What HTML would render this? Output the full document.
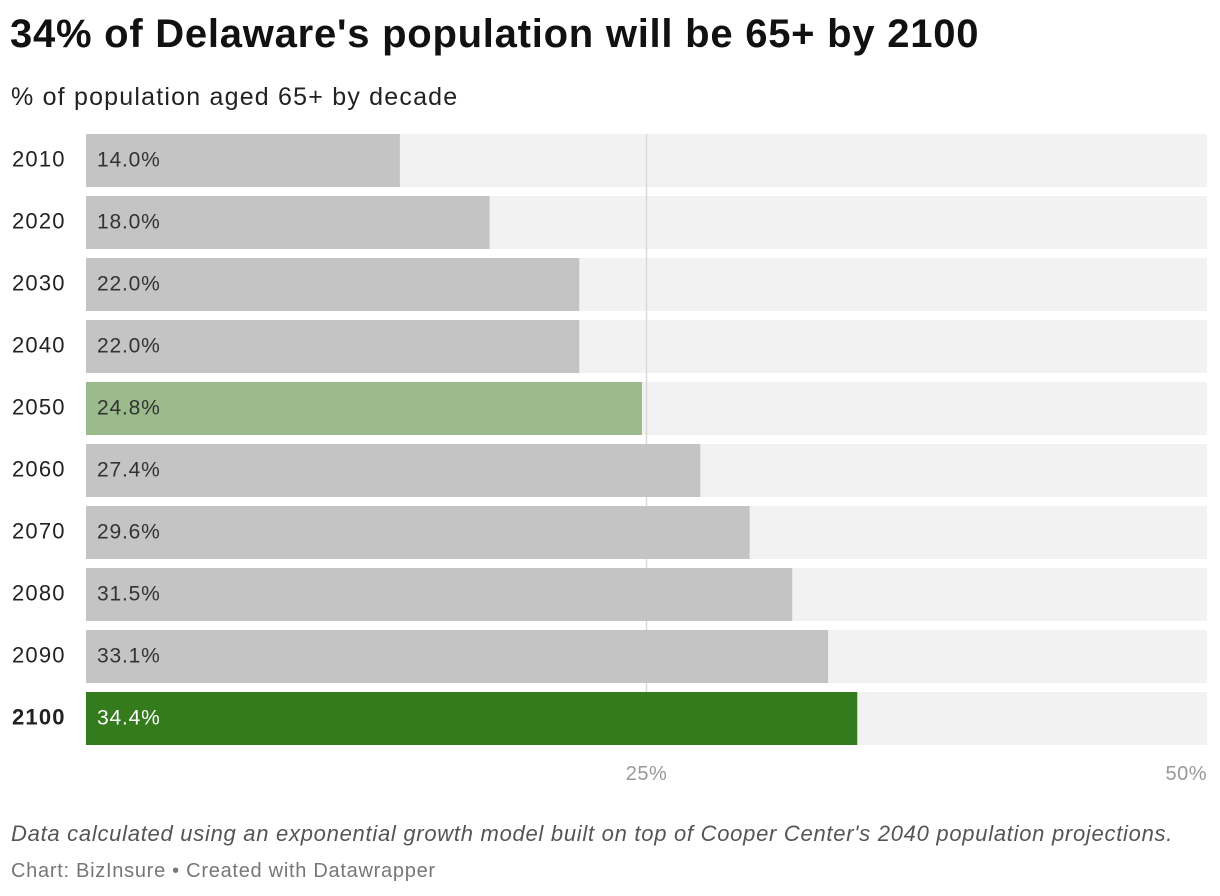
<!DOCTYPE html>
<html><head><meta charset="utf-8"><style>
body{margin:0;width:1220px;height:896px;background:#fff;font-family:"Liberation Sans",sans-serif;position:relative;overflow:hidden}
.t{position:absolute;white-space:nowrap}
</style></head><body>
<div class="t" style="left:10px;top:12px;font-size:40px;font-weight:bold;color:#111;letter-spacing:0.75px">34% of Delaware's population will be 65+ by 2100</div>
<div class="t" style="left:11px;top:83px;font-size:25px;color:#222;letter-spacing:1.2px">% of population aged 65+ by decade</div>
<svg id="chart" width="1220" height="800" style="position:absolute;left:0;top:0"></svg>
<div class="t" style="left:11px;top:821px;font-size:22px;font-style:italic;color:#555;letter-spacing:0.72px">Data calculated using an exponential growth model built on top of Cooper Center's 2040 population projections.</div>
<div class="t" style="left:11px;top:860px;font-size:20px;color:#777;letter-spacing:0.72px">Chart: BizInsure • Created with Datawrapper</div>
<script>
const years=["2010","2020","2030","2040","2050","2060","2070","2080","2090","2100"];
const values=[14.0,18.0,22.0,22.0,24.8,27.4,29.6,31.5,33.1,34.4];
const ticks=[25,50];
const NS="http://www.w3.org/2000/svg";
const svg=document.getElementById('chart');
const x0=86,x1=1207,max=50,top0=134,pitch=62,bh=53;
const x=v=>x0+(x1-x0)*v/max;
function mk(t,a){const e=document.createElementNS(NS,t);for(const k in a)e.setAttribute(k,a[k]);svg.appendChild(e);return e;}
years.forEach((y,i)=>{
  const yy=top0+i*pitch;
  const bg=mk('rect',{x:x0,y:yy,width:x1-x0,height:bh,fill:'#f2f2f2'});
  
  
});
ticks.forEach(t=>{
  if(t<max){const l=mk('line',{x1:x(t),x2:x(t),y1:top0,y2:top0+pitch*years.length-9,stroke:'#d9d9d9','stroke-width':1.5});
  
  }
  const tx=mk('text',{x:x(t),y:780,'font-size':20,fill:'#999','text-anchor':t==max?'end':'middle','letter-spacing':0.5});
  tx.textContent=t+'%';
  
  
});
years.forEach((y,i)=>{
  const yy=top0+i*pitch;
  const last=i==years.length-1, hl=y=="2050";
  const r=mk('rect',{x:x0,y:yy,width:x(values[i])-x0,height:bh,fill:last?'#347b1e':hl?'#9cbb8c':'#c4c4c4'});
  
  
  const lab=mk('text',{x:12,y:yy+bh/2+6,'font-size':22,fill:'#222','font-weight':last?'bold':'normal','letter-spacing':1.2});
  lab.textContent=y;
  
  
  const v=mk('text',{x:97,y:yy+bh/2+6,'font-size':21,fill:last?'#fff':'#333','letter-spacing':0.8});
  v.textContent=values[i].toFixed(1)+'%';
  
  
});
</script>
</body></html>
